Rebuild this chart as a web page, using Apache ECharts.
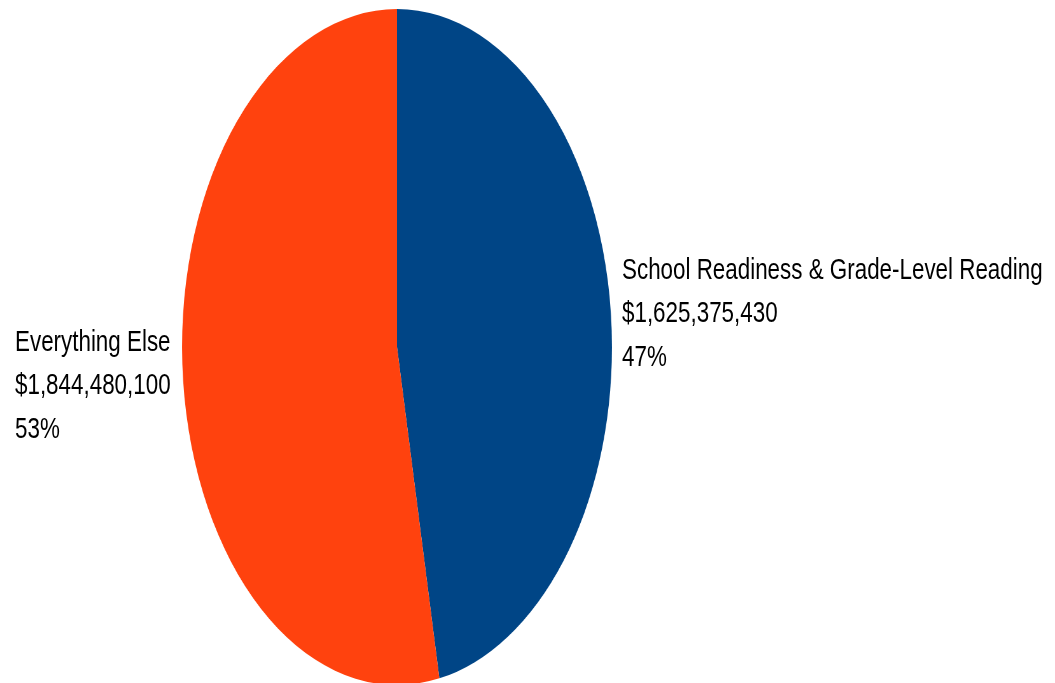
<!DOCTYPE html>
<html>
<head>
<meta charset="utf-8">
<script src="https://cdn.jsdelivr.net/npm/echarts@6/dist/echarts.min.js"></script>
<style>
  html, body { margin: 0; padding: 0; background: #fff; }
  #wrap { position: relative; width: 1055px; height: 683px; overflow: hidden; }
  /* the pie is drawn round and stretched into an upright ellipse */
  #pie { position: absolute; left: 59px; top: 9px; width: 676px; height: 676px;
         transform: scaleX(0.636); transform-origin: 50% 50%; }
  #labels { position: absolute; left: 0; top: 0; width: 1055px; height: 683px; pointer-events: none; }
</style>
</head>
<body>
<div id="wrap">
  <div id="pie"></div>
  <div id="labels"></div>
</div>
<script>
// Budget split
const categories = ['School Readiness & Grade-Level Reading', 'Everything Else'];
const amounts = [1625375430, 1844480100];
const colors = ['#004586', '#ff420e'];

const total = amounts.reduce((a, b) => a + b, 0);
const money = v => '$' + v.toLocaleString('en-US');
const pct = v => Math.round(v / total * 100) + '%';

const pie = echarts.init(document.getElementById('pie'), null, { renderer: 'canvas' });
pie.setOption({
  animation: false,
  series: [{
    type: 'pie',
    center: ['50%', '50%'],
    radius: ['0%', '100%'],
    startAngle: 90,
    clockwise: true,
    label: { show: false },
    labelLine: { show: false },
    emphasis: { disabled: true },
    itemStyle: { borderWidth: 0 },
    data: categories.map((c, i) => ({ name: c, value: amounts[i], itemStyle: { color: colors[i] } }))
  }]
});

// Slice captions: name, amount and share on three lines, condensed horizontally
const labelFont = { fontFamily: 'Liberation Sans, Arial, sans-serif', fontSize: 29, fill: '#000', lineHeight: 43.5 };
const captionPos = [[622, 249], [15, 321]];
const lbl = echarts.init(document.getElementById('labels'), null, { renderer: 'canvas' });
lbl.setOption({
  animation: false,
  graphic: categories.map((c, i) => ({
    type: 'text',
    x: captionPos[i][0],
    y: captionPos[i][1],
    scaleX: 0.772,
    style: Object.assign({
      text: [c, money(amounts[i]), pct(amounts[i])].join('\n'),
      verticalAlign: 'top',
      align: 'left'
    }, labelFont)
  }))
});
</script>
</body>
</html>
